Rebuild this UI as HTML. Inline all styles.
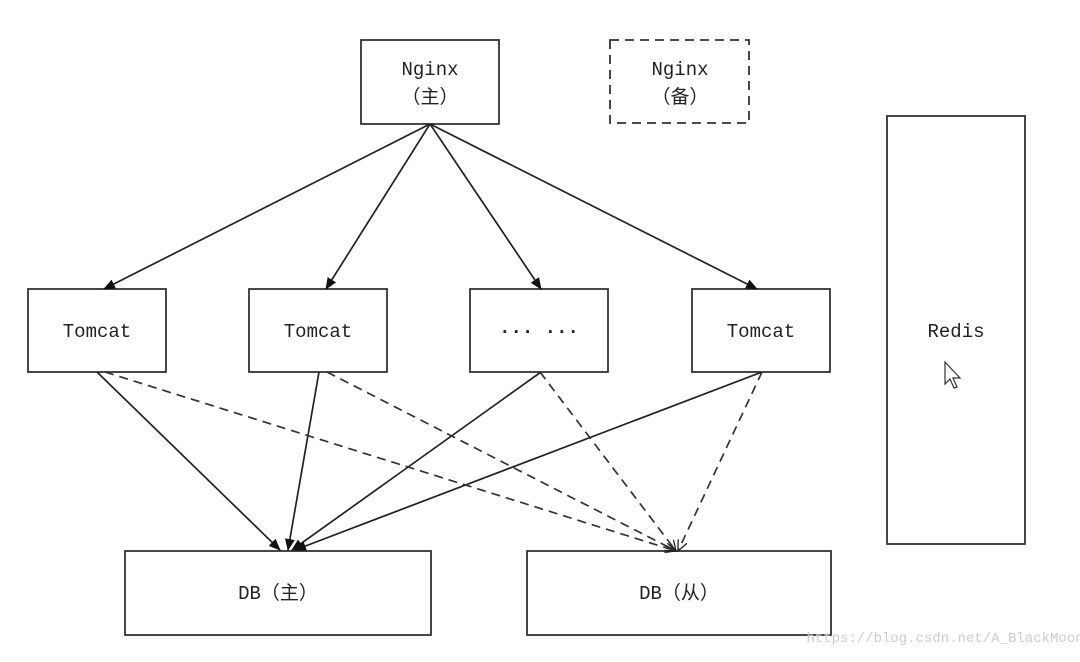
<!DOCTYPE html><html><head><meta charset="utf-8"><style>
body{margin:0;background:#fff;width:1080px;height:657px;overflow:hidden}
svg text{font-family:"Liberation Mono","Noto Sans CJK SC",monospace;font-size:19px;fill:#222;text-anchor:middle}
</style></head><body>
<svg width="1080" height="657" viewBox="0 0 1080 657">
<defs><marker id="a" markerWidth="12" markerHeight="10" refX="11" refY="5" orient="auto" markerUnits="userSpaceOnUse"><path d="M0,0 L12,5 L0,10 z" fill="#111"/></marker>
<marker id="o" markerWidth="12" markerHeight="10" refX="11" refY="5" orient="auto" markerUnits="userSpaceOnUse"><path d="M0,0 L11,5 L0,10" fill="none" stroke="#222" stroke-width="1.3"/></marker></defs>
<g fill="#fff" stroke="#333" stroke-width="1.8">
<rect x="361" y="40" width="138" height="84"/>
<rect x="610" y="40" width="139" height="83" stroke-dasharray="9,6"/>
<rect x="887" y="116" width="138" height="428"/>
<rect x="28" y="289" width="138" height="83"/>
<rect x="249" y="289" width="138" height="83"/>
<rect x="470" y="289" width="138" height="83"/>
<rect x="692" y="289" width="138" height="83"/>
<rect x="125" y="551" width="306" height="84"/>
<rect x="527" y="551" width="304" height="84"/>
</g>
<g stroke="#222" stroke-width="1.7" fill="none" marker-end="url(#a)">
<line x1="430" y1="124" x2="104" y2="289"/>
<line x1="430" y1="124" x2="326" y2="289"/>
<line x1="430" y1="124" x2="541" y2="289"/>
<line x1="430" y1="124" x2="757" y2="289"/>
<line x1="97" y1="372" x2="280" y2="550"/>
<line x1="319" y1="372" x2="288" y2="550"/>
<line x1="541" y1="372" x2="292" y2="550"/>
<line x1="762" y1="372" x2="295" y2="550"/>
</g>
<g stroke="#333" stroke-width="1.7" fill="none" stroke-dasharray="9,6" marker-end="url(#o)">
<line x1="105" y1="372" x2="676" y2="551"/>
<line x1="327" y1="372" x2="676" y2="551"/>
<line x1="540" y1="372" x2="676" y2="551"/>
<line x1="762" y1="372" x2="678" y2="551"/>
</g>
<text x="430" y="75">Nginx</text><text x="430" y="103">（主）</text>
<text x="680" y="75">Nginx</text><text x="680" y="103">（备）</text>
<text x="97" y="337">Tomcat</text><text x="318" y="337">Tomcat</text>
<text x="539" y="337" style="font-weight:bold">··· ···</text><text x="761" y="337">Tomcat</text>
<text x="956" y="337">Redis</text>
<text x="278" y="599">DB（主）</text><text x="679" y="599">DB（从）</text>
<path d="M945,362 l0,22 l5,-5 l4,9 l3,-1 l-4,-9 l7,0 z" fill="#fff" stroke="#333" stroke-width="1.2"/>
<text x="945" y="642" style="font-size:14px;fill:#ccc">https://blog.csdn.net/A_BlackMoon</text>
</svg></body></html>
